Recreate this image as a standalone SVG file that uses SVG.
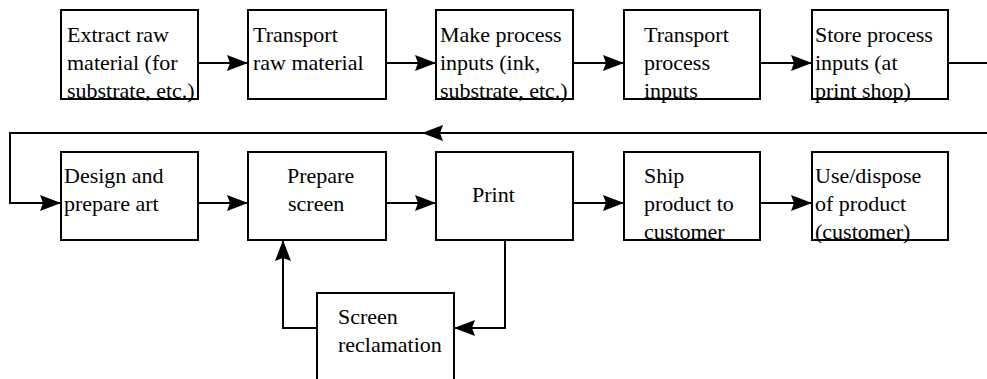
<svg xmlns="http://www.w3.org/2000/svg" width="987" height="379" viewBox="0 0 987 379">
<style>
.box{fill:#fff;stroke:#000;stroke-width:2}
.c{fill:none;stroke:#000;stroke-width:2}
</style>
<defs>
<marker id="ah" markerUnits="userSpaceOnUse" viewBox="0 0 21 16" refX="21" refY="8" markerWidth="21" markerHeight="16" orient="auto">
<path d="M0,0 L21,8 L0,16 L3,8 z" fill="#000"/>
</marker>
</defs>
<rect width="987" height="379" fill="#fff"/>
<g id="connectors">
<line class="c" x1="198" y1="63" x2="248" y2="63" marker-end="url(#ah)"/>
<line class="c" x1="386" y1="63" x2="436" y2="63" marker-end="url(#ah)"/>
<line class="c" x1="573" y1="63" x2="624" y2="63" marker-end="url(#ah)"/>
<line class="c" x1="760" y1="63" x2="812" y2="63" marker-end="url(#ah)"/>
<line class="c" x1="948" y1="63" x2="987" y2="63"/>
<line class="c" x1="987" y1="133" x2="422" y2="133" marker-end="url(#ah)"/>
<path class="c" d="M422,133 H10 V203 H61" marker-end="url(#ah)"/>
<line class="c" x1="198" y1="203" x2="248" y2="203" marker-end="url(#ah)"/>
<line class="c" x1="386" y1="203" x2="436" y2="203" marker-end="url(#ah)"/>
<line class="c" x1="573" y1="203" x2="624" y2="203" marker-end="url(#ah)"/>
<line class="c" x1="760" y1="203" x2="812" y2="203" marker-end="url(#ah)"/>
<path class="c" d="M505,240 V328 H454" marker-end="url(#ah)"/>
<path class="c" d="M317,328 H283 V240" marker-end="url(#ah)"/>
</g>
<g font-family="Liberation Serif" font-size="22">
<g id="extract">
<rect class="box" x="61" y="10" width="137" height="89"/>
<text x="67" y="42">Extract raw</text>
<text x="67" y="70">material (for</text>
<text x="67" y="98">substrate, etc.)</text>
</g>
<g id="transport-raw">
<rect class="box" x="248" y="10" width="138" height="89"/>
<text x="253" y="42">Transport</text>
<text x="253" y="70">raw material</text>
</g>
<g id="make-inputs">
<rect class="box" x="436" y="10" width="137" height="89"/>
<text x="440" y="42">Make process</text>
<text x="440" y="70">inputs (ink,</text>
<text x="440" y="98">substrate, etc.)</text>
</g>
<g id="transport-inputs">
<rect class="box" x="624" y="10" width="136" height="89"/>
<text x="644" y="42">Transport</text>
<text x="644" y="70">process</text>
<text x="644" y="98">inputs</text>
</g>
<g id="store-inputs">
<rect class="box" x="812" y="10" width="136" height="89"/>
<text x="815" y="42">Store process</text>
<text x="815" y="70">inputs (at</text>
<text x="815" y="98">print shop)</text>
</g>
<g id="design">
<rect class="box" x="61" y="152" width="137" height="88"/>
<text x="64" y="183">Design and</text>
<text x="64" y="211">prepare art</text>
</g>
<g id="prepare-screen">
<rect class="box" x="248" y="152" width="138" height="88"/>
<text x="287" y="183">Prepare</text>
<text x="288" y="211">screen</text>
</g>
<g id="print">
<rect class="box" x="436" y="152" width="137" height="88"/>
<text x="472" y="202">Print</text>
</g>
<g id="ship">
<rect class="box" x="624" y="152" width="136" height="88"/>
<text x="644" y="183">Ship</text>
<text x="644" y="211">product to</text>
<text x="644" y="239">customer</text>
</g>
<g id="use-dispose">
<rect class="box" x="812" y="152" width="136" height="88"/>
<text x="815" y="183">Use/dispose</text>
<text x="815" y="211">of product</text>
<text x="815" y="239">(customer)</text>
</g>
<g id="reclamation">
<rect class="box" x="317" y="293" width="137" height="100"/>
<text x="338" y="324">Screen</text>
<text x="338" y="352">reclamation</text>
</g>
</g>
</svg>
